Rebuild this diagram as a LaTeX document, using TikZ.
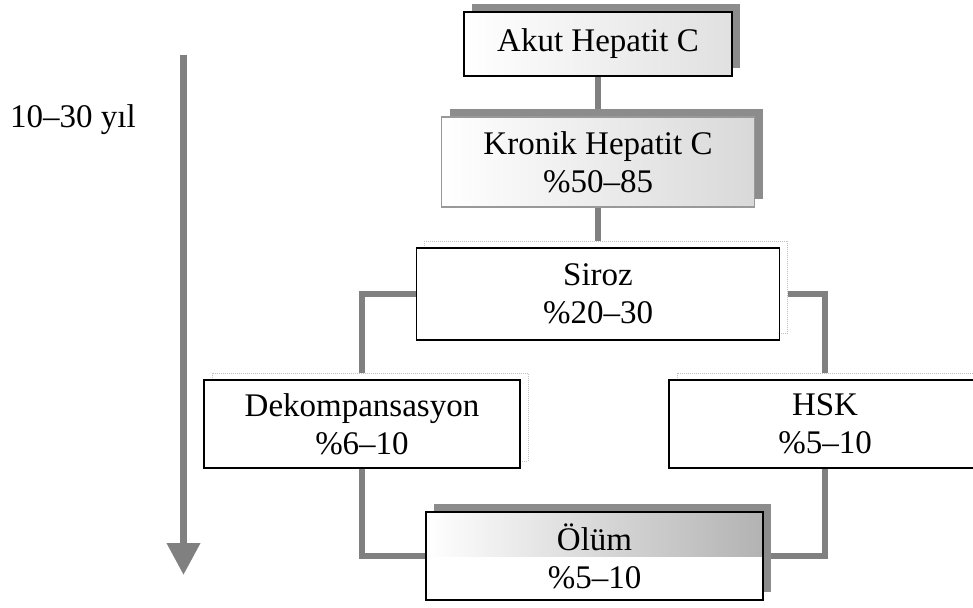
\documentclass[tikz,border=0pt]{standalone}
\usepackage{fontspec}
\setmainfont{Liberation Serif}
\usetikzlibrary{arrows.meta,shadows}
\pgfdeclarelayer{bg}
\pgfsetlayers{bg,main}
\tikzset{
 lbl/.style={font=\fontsize{33}{38}\selectfont, align=center, inner sep=0pt, text=black},
 boxbase/.style={lbl, rectangle, fill=white, line width=1.6pt},
 darkshadow/.style={drop shadow={shadow xshift=8pt, shadow yshift=8pt, opacity=1, fill=black!45}},
 faintshadow/.style={drop shadow={shadow xshift=8pt, shadow yshift=7pt, opacity=1, fill=white, draw=black!25, densely dotted, line width=1pt}},
 conn/.style={draw=black!50, line width=6pt},
}
\begin{document}
\begin{tikzpicture}[x=1pt,y=-1pt]
\useasboundingbox (0,0) rectangle (973,607);
% time arrow
\coordinate (atop) at (183.5,55);
\coordinate (abot) at (183.5,575);
\draw[black!50, line width=7pt, -{Triangle[width=32pt,length=32pt]}] (atop) -- (abot);
\node[lbl, anchor=west] (yil) at (10,120) {10–30 yıl};
% boxes
\node[boxbase, draw=black, darkshadow, minimum width=268pt, minimum height=64pt,
  path picture={\shade[left color=white, right color=black!12] (path picture bounding box.north west) rectangle (path picture bounding box.south east);}]
  (akut) at (598,44) {Akut Hepatit C};
\node[boxbase, draw=black!40, line width=1.2pt, darkshadow, minimum width=313pt, minimum height=90pt,
  path picture={\shade[left color=white, right color=black!15] (path picture bounding box.north west) rectangle (path picture bounding box.south east);}]
  (kronik) at (598,162) {Kronik Hepatit C\\\%50–85};
\node[boxbase, draw=black, faintshadow, minimum width=363pt, minimum height=92pt]
  (siroz) at (598,294) {Siroz\\\%20–30};
\node[boxbase, draw=black, faintshadow, minimum width=316pt, minimum height=88pt]
  (dekomp) at (362,424) {Dekompansasyon\\\%6–10};
\node[boxbase, draw=black, faintshadow, minimum width=312pt, minimum height=88pt]
  (hsk) at (825,424) {HSK\\\%5–10};
\node[boxbase, draw=black, darkshadow, minimum width=337pt, minimum height=88pt,
  path picture={\shade[left color=white, right color=black!30] (path picture bounding box.north west) rectangle (path picture bounding box.east);}]
  (olum) at (594.5,556) {Ölüm\\\%5–10};
% connectors
\begin{pgfonlayer}{bg}
\draw[conn] (akut.south) -- (kronik.north);
\draw[conn] (kronik.south) -- (siroz.north);
\draw[conn] (siroz.west) -| (dekomp.north);
\draw[conn] (siroz.east) -| (hsk.north);
\draw[conn] (dekomp.south) |- (olum.west);
\draw[conn] (hsk.south) |- (olum.east);
\end{pgfonlayer}
\end{tikzpicture}
\end{document}
